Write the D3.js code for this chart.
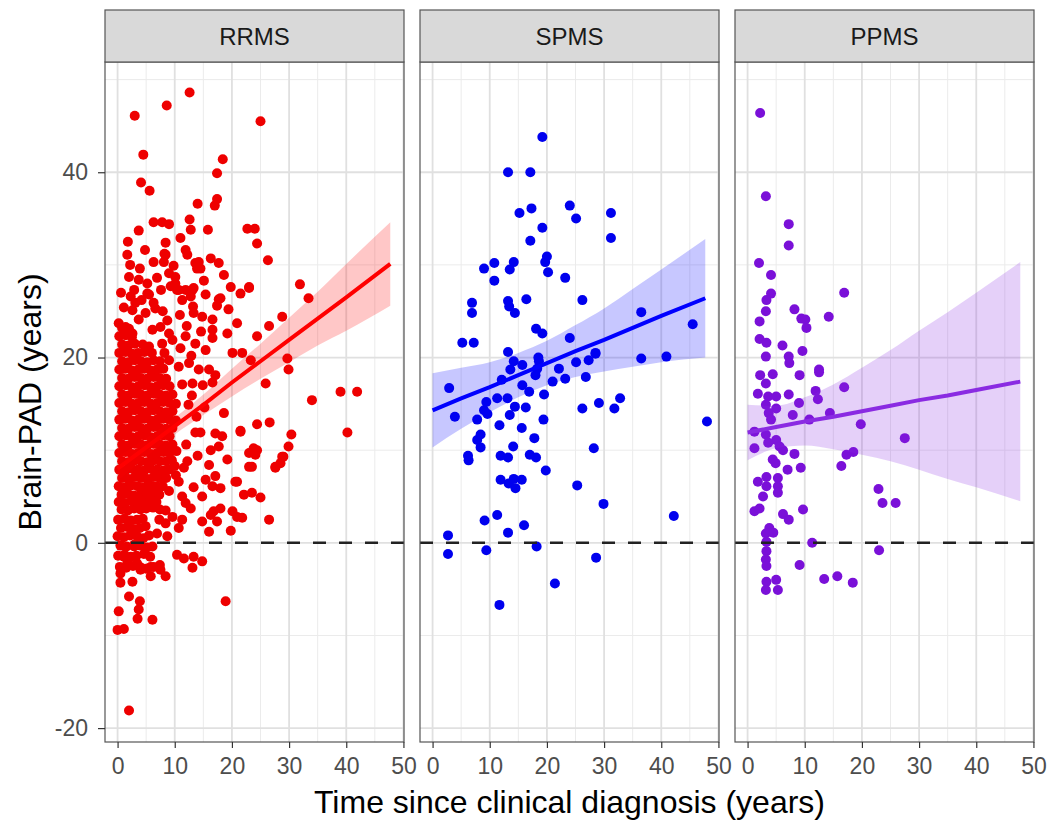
<!DOCTYPE html>
<html>
<head>
<meta charset="utf-8">
<script src="https://cdn.jsdelivr.net/npm/d3@7"></script>
<style>
  body { margin: 0; background: #fff; }
  text { font-family: "Liberation Sans", Arial, sans-serif; }
</style>
</head>
<body>
<svg id="chart"></svg>
<script>
// facet labels and tick values
var groups = ["RRMS", "SPMS", "PPMS"];
var xTicks = [0, 10, 20, 30, 40, 50];
var yTicks = [-20, 0, 20, 40];

// scatter points [time since diagnosis, brain-PAD]
var rrms = [
  // sparse outer points
  [12.6,48.6],[8.6,47.2],[3.0,46.1],[25.0,45.5],[4.5,41.9],[18.4,41.4],[17.4,39.9],[4.1,38.9],[5.6,38.0],
  [14.0,36.6],[17.4,37.1],[17.0,36.4],[6.3,34.6],[7.8,34.6],[9.0,34.4],[12.6,34.9],[12.8,33.8],[15.8,33.8],
  [22.7,33.9],[24.0,33.9],[3.7,33.7],[1.8,32.5],[1.7,31.1],[8.4,32.4],[11.9,31.6],[24.4,32.3],[8.2,31.2],
  [6.3,30.3],[14.2,30.3],[13.9,29.6],[16.3,30.7],[17.7,30.2],[26.3,30.5],[18.6,28.9],[19.8,27.6],[23.0,27.5],
  [15.4,26.8],[17.7,26.3],[10.1,28.7],[9.0,29.1],[2.0,28.7],[31.9,27.9],[33.4,26.4],[9.3,27.7],[10.4,27.3],
  [13.1,27.3],[2.9,27.3],[5.2,26.9],[12.2,31.1],[8.1,30.3],[8.4,31.1],[13.6,30.2],[14.5,29.6],[9.8,29.9],
  [3.7,28.4],[5.2,28.0],[10.1,28.0],[11.9,27.3],[13.3,27.5],[23.0,27.6],[21.5,26.9],[18.0,26.4],[17.4,25.6],
  [2.3,26.6],[3.1,25.9],[2.6,25.1],[5.5,26.8],[6.3,25.9],[6.6,25.3],[10.7,27.3],[11.3,26.2],[12.8,26.6],
  [13.2,25.5],[13.3,24.8],[14.8,24.4],[16.6,24.1],[16.6,23.0],[20.9,23.7],[26.5,23.4],[28.8,24.4],[19.2,22.6],
  [24.4,22.3],[0.2,23.7],[1.4,23.3],[2.6,22.6],[3.7,24.1],[4.9,24.8],[6.1,23.0],[7.5,23.3],[9.0,22.6],
  [9.6,21.9],[7.8,21.5],[5.5,21.2],[11.9,22.3],[13.6,21.5],[15.4,20.8],[16.6,22.1],[20.1,20.5],[21.8,20.5],
  [23.3,19.7],[25.9,17.2],[9.0,19.7],[10.7,19.0],[12.5,19.4],[14.2,18.7],[16.0,18.7],[17.1,18.1],
  [11.3,17.1],[13.1,17.2],[14.9,17.0],[16.6,17.3],[29.7,19.9],[29.9,18.7],
  [1.1,25.4],[4.2,26.2],[7.9,25.0],[8.7,24.0],[10.9,24.6],[12.1,23.4],[11.0,21.0],[12.9,20.2],[14.6,22.8],
  [3.9,29.6],[6.9,28.6],[7.6,27.3],[0.6,27.0],[2.2,30.0],[4.8,31.6],[11.0,32.9],[15.1,28.3],[19.4,25.2],
  [18.6,14.0],[21.5,12.1],[24.4,12.8],[26.6,13.0],[13.6,11.9],[14.5,11.9],[17.1,11.8],[18.3,11.5],
  [16.3,10.0],[17.7,10.4],[23.8,10.2],[24.1,9.5],[23.0,8.2],[27.6,8.2],[28.8,9.3],[19.2,9.0],[12.2,8.8],
  [11.6,8.1],[16.0,8.4],[15.4,6.8],[17.1,7.2],[16.6,6.1],[18.0,5.9],[20.9,6.6],[10.7,6.6],[13.3,6.0],
  [14.8,5.0],[11.3,5.0],[11.9,4.3],[12.8,3.7],[22.1,5.2],[23.5,5.4],[25.0,4.9],[18.0,3.7],[16.8,3.4],
  [16.3,3.0],[17.4,2.3],[20.1,3.4],[20.9,2.8],[21.8,2.7],[26.5,2.5],[14.8,2.3],[16.0,1.2],[19.8,1.3],
  [9.6,2.8],[11.3,2.5],[10.7,1.6],[8.4,2.1],[6.9,1.0],[8.7,0.7],[10.4,-1.3],[11.6,-1.7],[13.3,-1.5],
  [14.8,-2.0],[13.1,-2.7],[6.1,-0.4],[3.7,0.0],[30.4,11.7],[29.9,10.4],[29.0,9.3],[28.5,8.6],[27.6,8.1],
  [39.0,16.3],[41.9,16.3],[34.0,15.4],[40.2,11.9],[21.5,12.0],[24.4,10.0],[23.0,9.7],[23.5,8.2],[20.6,6.6],
  [12.4,14.9],[13.8,13.6],[12.0,10.6],[14.0,9.4],[10.2,7.3],[13.0,15.9],[15.2,14.6],
  [0.5,-4.3],[2.6,-4.2],[4.0,-2.9],[5.8,-2.6],[7.5,-2.9],[8.4,-3.6],[5.8,-3.6],[3.4,-2.2],[1.7,-2.2],
  [2.0,-5.8],[3.9,-6.3],[3.7,-7.2],[3.5,-8.2],[6.1,-8.3],[0.2,-7.4],[0.0,-9.4],[1.1,-9.3],[18.9,-6.3],
  [2.0,-18.1],[1.1,-1.5],[0.5,-3.3],[2.9,-0.4],
  // dense mass near diagnosis
  [0.4,-2.6],[1.5,-2.7],[2.7,-2.5],[3.9,-2.6],[5.0,-2.8],[6.3,-2.6],[7.4,-2.4],
  [0.1,-1.4],[1.2,-1.3],[2.3,-1.5],[3.3,-1.4],[4.6,-1.2],[5.7,-1.5],
  [0.5,-0.3],[1.6,-0.4],[2.9,-0.2],[4.0,-0.3],[5.2,-0.5],
  [0.0,0.7],[1.1,0.6],[2.2,0.8],[3.4,0.7],[4.5,0.5],[5.5,0.8],
  [0.6,1.6],[1.7,1.7],[2.8,1.5],[3.9,1.6],[4.9,1.8],
  [0.1,2.5],[1.2,2.6],[2.3,2.4],[3.4,2.5],[4.4,2.6],[7.3,2.5],
  [0.7,3.6],[1.8,3.5],[2.9,3.7],[4.0,3.6],[5.0,3.7],[6.2,3.8],[7.4,3.6],[8.4,3.5],
  [0.2,4.4],[1.3,4.3],[2.4,4.5],[3.5,4.3],[4.6,4.4],[5.7,4.5],[6.8,4.4],
  [0.7,5.2],[1.8,5.3],[2.9,5.1],[4.0,5.2],[5.1,5.3],[6.2,5.3],[7.3,5.2],[9.0,5.6],
  [0.2,6.1],[1.3,6.0],[2.4,6.2],[3.5,6.1],[4.6,6.0],[5.7,6.2],[6.8,6.1],[7.9,6.1],
  [0.8,7.0],[1.9,6.9],[3.0,7.1],[4.1,7.0],[5.2,6.9],[6.3,7.1],[7.4,7.0],[8.5,7.0],
  [0.3,7.9],[1.4,7.8],[2.5,8.0],[3.6,7.9],[4.7,7.8],[5.8,8.0],[6.9,7.9],[8.0,7.8],[9.0,7.9],[10.0,8.3],
  [0.8,8.8],[1.9,8.7],[3.0,8.9],[4.1,8.8],[5.2,8.7],[6.3,8.9],[7.4,8.8],[8.5,8.8],[9.5,8.9],
  [0.3,9.7],[1.4,9.8],[2.5,9.6],[3.6,9.7],[4.7,9.8],[5.8,9.6],[6.9,9.7],[8.0,9.8],[9.1,9.7],[10.3,9.9],
  [0.8,10.6],[1.9,10.5],[3.0,10.7],[4.1,10.6],[5.2,10.5],[6.3,10.7],[7.4,10.6],[8.5,10.5],[9.6,10.6],
  [0.3,11.5],[1.4,11.6],[2.5,11.4],[3.6,11.5],[4.7,11.6],[5.8,11.4],[6.9,11.5],[8.0,11.6],[9.1,11.5],
  [0.8,12.4],[1.9,12.3],[3.0,12.5],[4.1,12.4],[5.2,12.3],[6.3,12.5],[7.4,12.4],[8.5,12.3],[9.6,12.4],
  [0.3,13.3],[1.4,13.4],[2.5,13.2],[3.6,13.3],[4.7,13.4],[5.8,13.2],[6.9,13.3],[8.0,13.4],[9.1,13.3],[10.2,13.2],
  [0.8,14.2],[1.9,14.1],[3.0,14.3],[4.1,14.2],[5.2,14.1],[6.3,14.3],[7.4,14.2],[8.5,14.1],[9.6,14.2],
  [0.3,15.1],[1.4,15.2],[2.5,15.0],[3.6,15.1],[4.7,15.2],[5.8,15.0],[6.9,15.1],[8.0,15.2],[9.1,15.1],[10.2,15.0],
  [0.8,16.0],[1.9,15.9],[3.0,16.1],[4.1,16.0],[5.2,15.9],[6.3,16.1],[7.4,16.0],[8.5,15.9],[9.6,16.0],
  [0.3,16.9],[1.4,17.0],[2.5,16.8],[3.6,16.9],[4.7,17.0],[5.8,16.8],[6.9,16.9],[8.0,17.0],[9.1,16.9],
  [0.8,17.8],[1.9,17.7],[3.0,17.9],[4.1,17.8],[5.2,17.7],[6.3,17.9],[7.4,17.8],[8.5,17.7],
  [0.3,18.7],[1.4,18.8],[2.5,18.6],[3.6,18.7],[4.7,18.8],[5.8,18.6],[6.9,18.7],[8.0,18.8],
  [0.8,19.6],[1.9,19.5],[3.0,19.7],[4.1,19.6],[5.2,19.5],[6.3,19.7],[7.4,19.6],
  [0.3,20.5],[1.4,20.6],[2.5,20.4],[3.6,20.5],[4.7,20.6],[6.0,20.5],[8.2,20.5],
  [0.8,21.4],[1.9,21.3],[3.0,21.5],[4.4,21.4],
  [0.3,22.3],[1.4,22.4],[2.5,22.2],
  [0.8,23.2],[2.0,23.1]
];

var spms = [
  [19.2,43.8],[13.2,40.0],[17.1,40.0],[15.2,35.6],[17.3,36.1],[24.0,36.4],[25.1,35.0],[31.2,35.6],[31.2,32.9],
  [19.2,34.0],[17.1,32.6],[20.0,30.9],[19.7,30.3],[20.2,29.2],[23.2,28.6],[9.0,29.6],[10.8,30.2],[10.8,28.3],
  [13.5,29.5],[14.2,30.3],[6.9,25.9],[6.9,24.8],[13.2,26.1],[13.4,25.5],[14.4,24.8],[16.4,26.3],[26.2,26.2],
  [36.5,24.9],[45.5,23.6],[18.1,23.1],[19.2,22.6],[24.0,22.1],[5.2,21.6],[7.2,21.6],[13.2,20.6],[28.5,20.5],
  [36.5,19.9],[40.9,20.1],[18.5,20.0],[14.2,19.6],[15.7,19.2],[18.6,19.6],[18.3,18.8],[18.0,18.1],[13.6,18.7],
  [22.1,18.8],[25.1,19.5],[27.3,19.7],[28.5,20.4],[2.9,16.7],[3.9,13.6],[12.1,17.6],[15.7,17.0],[16.9,16.3],
  [19.5,16.0],[21.0,17.4],[23.2,17.7],[26.8,17.9],[9.4,15.2],[11.3,15.6],[13.1,15.6],[14.4,14.7],[16.3,14.6],
  [9.0,14.3],[9.6,13.9],[13.5,13.8],[7.8,13.3],[19.4,13.3],[26.2,14.5],[29.1,15.1],[31.8,14.5],[32.8,15.6],
  [48.0,13.1],[11.7,12.7],[15.6,12.4],[8.4,11.7],[7.8,11.1],[8.4,10.3],[14.1,10.4],[17.8,11.3],[6.2,9.4],
  [6.3,8.9],[11.9,9.4],[13.2,9.2],[17.0,9.5],[18.1,9.2],[19.8,7.8],[28.2,10.2],[11.9,6.8],[14.2,6.9],
  [15.6,6.8],[14.5,5.9],[13.3,6.4],[25.3,6.2],[29.9,4.2],[42.2,2.9],[9.1,2.4],[11.3,3.0],[16.0,1.9],
  [13.2,1.1],[2.7,0.8],[2.7,-1.2],[9.4,-0.8],[18.2,-0.4],[28.6,-1.6],[21.4,-4.4],[11.7,-6.7]
];

var ppms = [
  [2.2,46.4],[3.2,37.4],[7.2,34.4],[7.2,32.1],[2.0,30.2],[4.1,28.9],[4.1,26.9],[3.3,26.2],[16.9,27.0],
  [3.2,25.0],[8.2,25.2],[9.4,24.2],[10.1,24.1],[10.3,23.2],[14.2,24.4],[2.1,23.9],[2.1,22.0],[3.3,21.6],
  [3.2,20.1],[6.1,21.3],[9.6,20.7],[7.2,20.1],[7.3,19.4],[12.5,18.7],[2.2,18.1],[4.4,18.2],[9.1,18.1],
  [12.5,18.4],[3.2,17.2],[1.8,16.1],[3.6,15.8],[5.0,15.8],[7.2,16.0],[11.9,16.4],[12.3,15.5],[16.9,16.8],
  [9.0,15.1],[3.2,14.9],[5.0,14.5],[3.7,14.0],[7.9,13.8],[14.4,14.0],[4.1,13.3],[10.8,13.3],[19.8,12.8],
  [1.2,12.0],[3.2,11.7],[27.5,11.3],[5.0,11.1],[3.6,10.8],[5.6,10.4],[1.2,10.2],[6.2,10.0],[8.2,9.6],
  [18.5,9.8],[17.3,9.5],[4.4,9.0],[4.9,8.6],[16.4,8.3],[7.0,7.9],[9.3,8.1],[3.3,7.1],[1.8,6.6],
  [5.3,7.0],[3.3,6.1],[5.3,6.1],[2.7,5.0],[5.3,5.4],[22.9,5.8],[23.6,4.3],[25.9,4.3],[1.2,3.4],
  [2.1,3.7],[6.2,3.1],[7.2,2.5],[9.7,3.6],[3.8,1.6],[3.2,1.0],[4.5,1.1],[3.3,0.1],[11.3,0.0],
  [3.3,-0.9],[3.2,-1.8],[3.3,-2.5],[23.0,-0.8],[9.1,-2.4],[3.3,-4.2],[5.0,-4.0],[3.2,-5.1],[5.3,-5.1],
  [13.4,-3.9],[15.7,-3.6],[18.4,-4.3]
];

// lm fit and 95% band
var fitX    = [0, 5, 10, 15, 20, 25, 30, 35, 40, 47.7];
var rrmsFit = [8.0, 10.3, 12.6, 14.9, 17.3, 19.6, 21.9, 24.2, 26.5, 30.1];
var rrmsLo  = [6.7, 9.3, 11.7, 13.8, 15.8, 17.7, 19.5, 21.3, 22.9, 25.6];
var rrmsHi  = [9.3, 11.3, 13.5, 16.0, 18.8, 21.5, 24.3, 27.1, 30.1, 34.6];
var spmsFit = [14.3, 15.6, 16.8, 18.1, 19.4, 20.7, 21.9, 23.2, 24.5, 26.4];
var spmsLo  = [10.3, 12.3, 14.1, 15.7, 17.0, 17.9, 18.5, 19.0, 19.5, 20.0];
var spmsHi  = [18.3, 18.9, 19.5, 20.5, 21.8, 23.5, 25.3, 27.4, 29.5, 32.8];
var ppmsFit = [11.9, 12.5, 13.1, 13.6, 14.2, 14.8, 15.4, 15.9, 16.5, 17.4];
var ppmsLo  = [8.9, 10.2, 10.5, 10.1, 9.5, 8.8, 7.9, 6.9, 6.0, 4.5];
var ppmsHi  = [14.9, 14.8, 15.7, 17.1, 18.9, 20.8, 22.9, 24.9, 27.0, 30.3];

var points = [rrms, spms, ppms];
var fits = [rrmsFit, spmsFit, ppmsFit];
var los = [rrmsLo, spmsLo, ppmsLo];
var his = [rrmsHi, spmsHi, ppmsHi];
var colors = ["#ff0000", "#0000ff", "#8a2be2"];
var dotColors = ["#ee0000", "#0000ee", "#7a10d8"];

var W = 1049, H = 822;
var panelTop = 62, panelBottom = 742, stripTop = 10;
var panelW = 299, gap = 16, left0 = 105;

var svg = d3.select("#chart").attr("width", W).attr("height", H);
svg.append("rect").attr("width", W).attr("height", H).attr("fill", "#fff");

var x = d3.scaleLinear().domain([-2.2, 50.1]).range([0, panelW]);
var y = d3.scaleLinear().domain([-21.5, 51.9]).range([panelBottom - panelTop, 0]);
var ph = panelBottom - panelTop;

groups.forEach(function(name, gi) {
    var g = svg.append("g")
        .attr("transform", "translate(" + (left0 + gi * (panelW + gap)) + "," + panelTop + ")");

    // minor grid
    g.selectAll(".vminor").data([5, 15, 25, 35, 45]).enter().append("line")
        .attr("x1", function(d) { return x(d); }).attr("x2", function(d) { return x(d); })
        .attr("y1", 0).attr("y2", ph)
        .attr("stroke", "#ebebeb").attr("stroke-width", 1);
    g.selectAll(".hminor").data([-10, 10, 30, 50]).enter().append("line")
        .attr("y1", function(d) { return y(d); }).attr("y2", function(d) { return y(d); })
        .attr("x1", 0).attr("x2", panelW)
        .attr("stroke", "#ebebeb").attr("stroke-width", 1);
    // major grid
    g.selectAll(".vmajor").data(xTicks).enter().append("line")
        .attr("x1", function(d) { return x(d); }).attr("x2", function(d) { return x(d); })
        .attr("y1", 0).attr("y2", ph)
        .attr("stroke", "#e0e0e0").attr("stroke-width", 1.8);
    g.selectAll(".hmajor").data(yTicks).enter().append("line")
        .attr("y1", function(d) { return y(d); }).attr("y2", function(d) { return y(d); })
        .attr("x1", 0).attr("x2", panelW)
        .attr("stroke", "#e0e0e0").attr("stroke-width", 1.8);

    g.selectAll("circle").data(points[gi]).enter().append("circle")
        .attr("cx", function(d) { return x(d[0]); })
        .attr("cy", function(d) { return y(d[1]); })
        .attr("r", 5)
        .attr("fill", dotColors[gi]);

    var band = fitX.map(function(v, i) { return { x: v, lo: los[gi][i], hi: his[gi][i], f: fits[gi][i] }; });

    var area = d3.area()
        .x(function(d) { return x(d.x); })
        .y0(function(d) { return y(d.lo); })
        .y1(function(d) { return y(d.hi); })
        .curve(d3.curveMonotoneX);
    g.append("path").datum(band).attr("d", area)
        .attr("fill", colors[gi]).attr("fill-opacity", 0.22);

    var line = d3.line()
        .x(function(d) { return x(d.x); })
        .y(function(d) { return y(d.f); });
    g.append("path").datum(band).attr("d", line)
        .attr("fill", "none").attr("stroke", colors[gi]).attr("stroke-width", 4);

    g.append("line")
        .attr("x1", 0).attr("x2", panelW)
        .attr("y1", y(0)).attr("y2", y(0))
        .attr("stroke", "#222").attr("stroke-width", 2.6)
        .attr("stroke-dasharray", "13,13");

    g.append("rect").attr("width", panelW).attr("height", ph)
        .attr("fill", "none").attr("stroke", "#555").attr("stroke-width", 1.2);

    // strip
    g.append("rect").attr("y", stripTop - panelTop).attr("width", panelW).attr("height", panelTop - stripTop)
        .attr("fill", "#d9d9d9").attr("stroke", "#555").attr("stroke-width", 1.2);
    g.append("text").attr("x", panelW / 2).attr("y", (stripTop - panelTop) / 2 + 9)
        .attr("text-anchor", "middle").attr("font-size", 24).attr("fill", "#1a1a1a")
        .text(name);

    var xAxis = d3.axisBottom(x).tickValues(xTicks).tickSize(6).tickPadding(10)
        .tickFormat(function(d) { return String(d); });
    var xa = g.append("g").attr("transform", "translate(0," + ph + ")").call(xAxis);
    xa.select(".domain").remove();
    xa.selectAll("line").attr("stroke", "#333").attr("stroke-width", 1.2);
    xa.selectAll("text").attr("font-size", 23).attr("fill", "#4d4d4d")
        .style("font-family", "'Liberation Sans', Arial, sans-serif");

    if (gi === 0) {
        var yAxis = d3.axisLeft(y).tickValues(yTicks).tickSize(7).tickPadding(10)
            .tickFormat(function(d) { return String(d); });
        var ya = g.append("g").call(yAxis);
        ya.select(".domain").remove();
        ya.selectAll("line").attr("stroke", "#333").attr("stroke-width", 1.2);
        ya.selectAll("text").attr("font-size", 23).attr("fill", "#4d4d4d")
            .style("font-family", "'Liberation Sans', Arial, sans-serif");
    }
});

svg.append("text")
    .attr("x", (left0 + left0 + 3 * panelW + 2 * gap) / 2)
    .attr("y", 813)
    .attr("text-anchor", "middle")
    .attr("font-size", 32)
    .attr("fill", "#000")
    .text("Time since clinical diagnosis (years)");

svg.append("text")
    .attr("transform", "translate(41," + (panelTop + panelBottom) / 2 + ") rotate(-90)")
    .attr("text-anchor", "middle")
    .attr("font-size", 32)
    .attr("fill", "#000")
    .text("Brain-PAD (years)");
</script>
</body>
</html>
